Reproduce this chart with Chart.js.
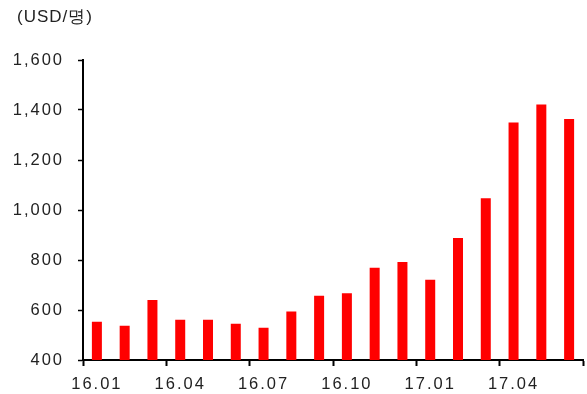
<!DOCTYPE html>
<html>
<head>
<meta charset="utf-8">
<script src="https://cdn.jsdelivr.net/npm/chart.js@4.4.1/dist/chart.umd.min.js"></script>
<style>
  html, body { margin: 0; padding: 0; background: #fff; }
  #wrap { width: 587px; height: 394px; position: relative; }
</style>
</head>
<body>
<div id="wrap"><canvas id="c"></canvas></div>
<script>
// Monthly values, USD per person
const months = ['16.01','16.02','16.03','16.04','16.05','16.06','16.07','16.08','16.09',
                '16.10','16.11','16.12','17.01','17.02','17.03','17.04','17.05','17.06'];
const values = [553, 537, 640, 561, 561, 545, 529, 594, 657,
                667, 769, 792, 721, 888, 1047, 1350, 1422, 1364];
const yTicks = [400, 600, 800, 1000, 1200, 1400, 1600];
const unitLabel = '(USD/명)';

const FONT = '"Liberation Sans", Arial, sans-serif';
const TEXT = '#222';

// Wide-tracked lettering for all axis text, plus the unit caption
const unitTitle = {
  id: 'unitTitle',
  beforeDraw(chart) {
    chart.ctx.letterSpacing = '2px';
  },
  afterDraw(chart) {
    const ctx = chart.ctx;
    ctx.save();
    ctx.letterSpacing = '1px';
    ctx.font = '17px ' + FONT;
    ctx.fillStyle = TEXT;
    ctx.textAlign = 'left';
    ctx.textBaseline = 'middle';
    ctx.fillText(unitLabel, 17, 17);
    ctx.restore();
  }
};

new Chart(document.getElementById('c'), {
  type: 'bar',
  data: {
    labels: months,
    datasets: [{
      data: values,
      backgroundColor: '#ff0000',
      borderWidth: 0,
      barPercentage: 0.36,
      categoryPercentage: 1.0
    }]
  },
  options: {
    responsive: true,
    maintainAspectRatio: false,
    animation: false,
    layout: { padding: { top: 60, right: 4, left: 0, bottom: 0 } },
    plugins: { legend: { display: false }, tooltip: { enabled: false } },
    scales: {
      x: {
        afterFit(s) { s.height = 34; },
        grid: {
          offset: true,
          drawOnChartArea: false,
          drawTicks: true,
          tickLength: 6,
          tickWidth: 2,
          color: (c) => (c.index === undefined || c.index % 3 === 0) ? '#000' : 'rgba(0,0,0,0)'
        },
        border: { color: '#000', width: 2 },
        ticks: {
          autoSkip: false,
          maxRotation: 0,
          padding: 9,
          color: TEXT,
          font: { family: FONT, size: 16.5 },
          callback: (v, i) => (i % 3 === 0 ? months[i] : '')
        }
      },
      y: {
        min: 400,
        max: 1600,
        afterFit(s) { s.width = 83; },
        afterBuildTicks(s) { s.ticks = yTicks.map(v => ({ value: v })); },
        grid: {
          drawOnChartArea: false,
          drawTicks: true,
          tickLength: 5,
          tickWidth: 1.5,
          color: '#000'
        },
        border: { color: '#000', width: 2 },
        ticks: {
          padding: 14,
          color: TEXT,
          font: { family: FONT, size: 16.5 },
          callback: (v) => v.toLocaleString('en-US')
        }
      }
    }
  },
  plugins: [unitTitle]
});
</script>
</body>
</html>
